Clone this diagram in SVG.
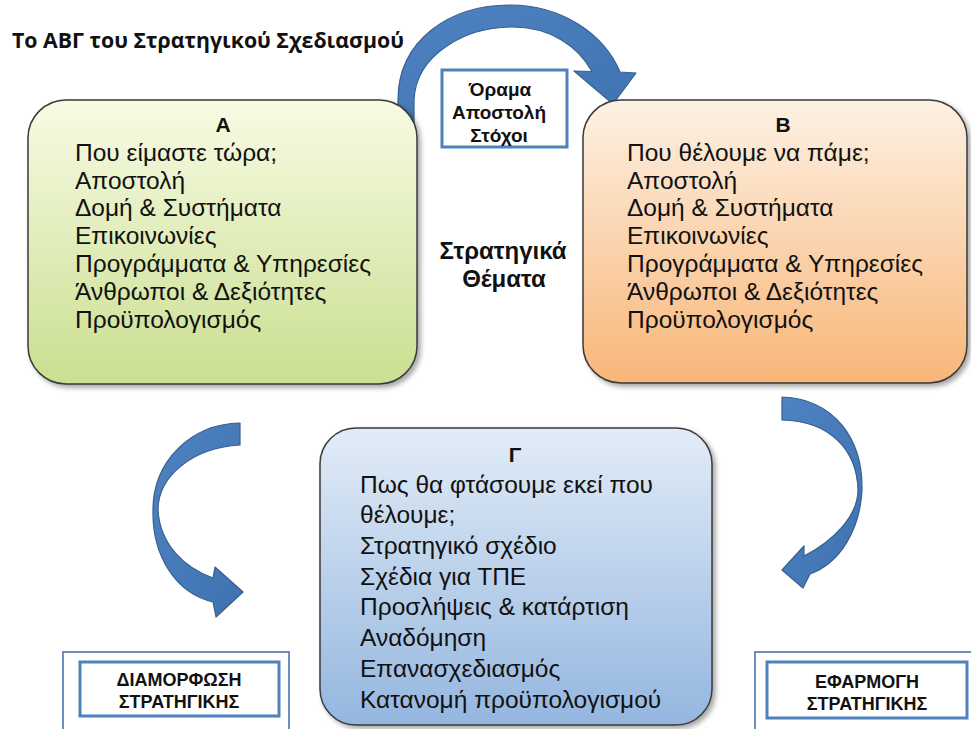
<svg xmlns="http://www.w3.org/2000/svg" width="971" height="729" viewBox="0 0 971 729">
  <defs>
    <linearGradient id="gA" x1="0" y1="0" x2="0" y2="1">
      <stop offset="0" stop-color="#f8fbe4"/>
      <stop offset="1" stop-color="#c9df90"/>
    </linearGradient>
    <linearGradient id="gB" x1="0" y1="0" x2="0" y2="1">
      <stop offset="0" stop-color="#fdf1e4"/>
      <stop offset="1" stop-color="#f8b678"/>
    </linearGradient>
    <linearGradient id="gC" x1="0" y1="0" x2="0" y2="1">
      <stop offset="0" stop-color="#e2ecf7"/>
      <stop offset="1" stop-color="#94b6df"/>
    </linearGradient>
    <linearGradient id="gArrow" x1="0" y1="0" x2="1" y2="1">
      <stop offset="0" stop-color="#4f82c0"/>
      <stop offset="1" stop-color="#3f72b0"/>
    </linearGradient>
    <filter id="shadow" x="-10%" y="-10%" width="125%" height="125%">
      <feDropShadow dx="3" dy="3" stdDeviation="2.5" flood-color="#000" flood-opacity="0.35"/>
    </filter>
  </defs>
  <style>
    .box { stroke: #3a3a3a; stroke-width: 1.5; filter: url(#shadow); }
    .arrow { fill: url(#gArrow); stroke: #35608f; stroke-width: 1.2; stroke-linejoin: round; }
    .t { font-family: "Liberation Sans", Arial, sans-serif; font-size: 24.5px; fill: #111; }
    .h { font-family: "Liberation Sans", Arial, sans-serif; font-size: 21px; font-weight: bold; fill: #111; text-anchor: middle; }
    .b { font-family: "Liberation Sans", Arial, sans-serif; font-weight: bold; fill: #111; text-anchor: middle; }
    .lbl { fill: #fff; stroke: #4f81bd; stroke-width: 3; }
    .lbl2 { fill: none; stroke: #6d8fbd; stroke-width: 2; }
  </style>
  <rect width="971" height="729" fill="#fff"/>

  <text id="title" x="12" y="48" font-family="'Open Sans', 'Noto Sans', sans-serif" font-size="21.3" font-weight="bold" fill="#111">Το ΑΒΓ του Στρατηγικού Σχεδιασμού</text>

  <g id="connectors">
    <path class="arrow" d="M398,125 L398,100 C398,40 450,5 510,5 C562,5 604,34 620,72 L636,73 L613,104 L574,71 L592,71.5 C578,46 550,27 512,27 C466,27 416,54 414,100 L414,125 Z"/>
    <path class="arrow" d="M240,423 L240,445 C190,448 158,478 158,510 C160,545 185,568 213,578 L215,567 L243,592 L216,617 L213,602 C175,593 152,555 153,510 C153,462 190,424 240,423 Z"/>
    <path class="arrow" d="M782,397 C835,399 863,440 862,490 C860,530 840,563 810,574 L803,588 L782,570 L804,546 L804,556 C835,540 858,515 858,490 C857,450 830,421 782,420 Z"/>
  </g>

  <g id="nodeA">
    <rect class="box" x="28" y="100" width="389" height="284" rx="38" fill="url(#gA)"/>
    <text class="h" x="223" y="132">Α</text>
    <text class="t" x="75" y="161">Που είμαστε τώρα;</text>
    <text class="t" x="75" y="189">Αποστολή</text>
    <text class="t" x="75" y="216">Δομή &amp; Συστήματα</text>
    <text class="t" x="75" y="244">Επικοινωνίες</text>
    <text class="t" x="75" y="272">Προγράμματα &amp; Υπηρεσίες</text>
    <text class="t" x="75" y="300">Άνθρωποι &amp; Δεξιότητες</text>
    <text class="t" x="75" y="328">Προϋπολογισμός</text>
  </g>

  <g id="nodeB">
    <rect class="box" x="583" y="100" width="384" height="283" rx="38" fill="url(#gB)"/>
    <text class="h" x="783" y="132">Β</text>
    <text class="t" x="627" y="161">Που θέλουμε να  πάμε;</text>
    <text class="t" x="627" y="189">Αποστολή</text>
    <text class="t" x="627" y="216">Δομή &amp; Συστήματα</text>
    <text class="t" x="627" y="244">Επικοινωνίες</text>
    <text class="t" x="627" y="272">Προγράμματα &amp; Υπηρεσίες</text>
    <text class="t" x="627" y="300">Άνθρωποι &amp; Δεξιότητες</text>
    <text class="t" x="627" y="328">Προϋπολογισμός</text>
  </g>

  <g id="nodeC">
    <rect class="box" x="320" y="428" width="392" height="297" rx="36" fill="url(#gC)"/>
    <text class="h" x="515" y="462">Γ</text>
    <text class="t" x="360" y="493">Πως θα φτάσουμε εκεί που</text>
    <text class="t" x="360" y="523">θέλουμε;</text>
    <text class="t" x="360" y="554">Στρατηγικό σχέδιο</text>
    <text class="t" x="360" y="585">Σχέδια για ΤΠΕ</text>
    <text class="t" x="360" y="615">Προσλήψεις &amp; κατάρτιση</text>
    <text class="t" x="360" y="646">Αναδόμηση</text>
    <text class="t" x="360" y="677">Επανασχεδιασμός</text>
    <text class="t" x="360" y="708">Κατανομή προϋπολογισμού</text>
  </g>

  <g id="vision">
    <rect class="lbl" x="442" y="70" width="125" height="77"/>
    <text class="b" x="500" y="96" font-size="19">Όραμα</text>
    <text class="b" x="499" y="119" font-size="19">Αποστολή</text>
    <text class="b" x="499" y="142" font-size="19">Στόχοι</text>
  </g>

  <g id="themes">
    <text class="b" x="503" y="259" font-size="24">Στρατηγικά</text>
    <text class="b" x="504" y="287" font-size="24">Θέματα</text>
  </g>

  <g id="formulation">
    <rect class="lbl2" x="63" y="652" width="226" height="90"/>
    <rect class="lbl" x="80" y="662" width="199" height="54" fill="none"/>
    <text class="b" x="179" y="686" font-size="18">ΔΙΑΜΟΡΦΩΣΗ</text>
    <text class="b" x="179" y="708" font-size="18">ΣΤΡΑΤΗΓΙΚΗΣ</text>
  </g>

  <g id="implementation">
    <rect class="lbl2" x="755" y="652" width="230" height="90"/>
    <rect class="lbl" x="767" y="662" width="200" height="56" fill="none"/>
    <text class="b" x="867" y="688" font-size="18">ΕΦΑΡΜΟΓΗ</text>
    <text class="b" x="867" y="710" font-size="18">ΣΤΡΑΤΗΓΙΚΗΣ</text>
  </g>
</svg>
